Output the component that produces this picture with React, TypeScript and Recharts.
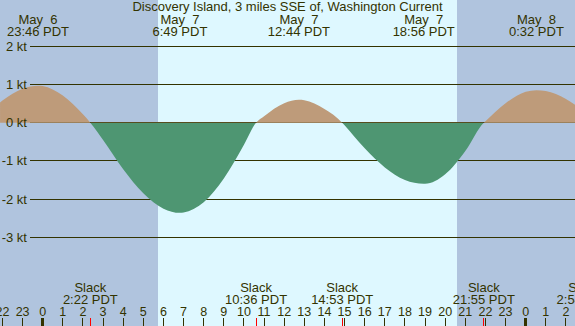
import React from 'react';
import { ComposedChart, Area, XAxis, YAxis, CartesianGrid } from 'recharts';

const W = 575;
const H = 326;
const FONT = '"Liberation Sans", Arial, sans-serif';
const INK = '#333300';
const NIGHT = '#b0c4de';
const DAY = '#def8ff';
const FLOOD = '#be9b7a';
const EBB = '#4e9672';

// current speed (hours from May 7 00:00 PDT, knots)
const hours = [-2.12, -2, -1, -0.233, 0, 1, 2, 2.367, 3, 4, 5, 6, 6.817, 7, 8, 9, 10, 10.6, 11, 12, 12.733, 13, 14, 14.883, 15, 16, 17, 18, 18.933, 19, 20, 21, 21.917, 22, 23, 24, 24.533, 25, 26, 26.45];
const knots = [0.53, 0.58, 0.89, 0.97, 0.96, 0.71, 0.22, 0, -0.45, -1.22, -1.85, -2.25, -2.36, -2.35, -2.08, -1.46, -0.58, 0, 0.17, 0.51, 0.6, 0.59, 0.36, 0, -0.07, -0.67, -1.17, -1.5, -1.6, -1.6, -1.35, -0.74, 0, 0.04, 0.51, 0.81, 0.85, 0.83, 0.62, 0.47];

// axis extents
const xDomain = [-2.122, 26.45];
const yDomain = [-5.322, 3.212];

// sunrise / sunset
const sunrise = 5.714;
const sunset = 20.59;

// max current labels (top)
const peakHours = [-0.233, 6.817, 12.733, 18.933, 24.533];
const peakDates = ['May  6', 'May  7', 'May  7', 'May  7', 'May  8'];
const peakTimes = ['23:46 PDT', '6:49 PDT', '12:44 PDT', '18:56 PDT', '0:32 PDT'];

// slack labels (bottom)
const slackHours = [2.367, 10.6, 14.883, 21.917, 26.9];
const slackTimes = ['2:22 PDT', '10:36 PDT', '14:53 PDT', '21:55 PDT', '2:54 PDT'];

// hour ticks
const hourTicks = [-2, -1, 0, 1, 2, 3, 4, 5, 6, 7, 8, 9, 10, 11, 12, 13, 14, 15, 16, 17, 18, 19, 20, 21, 22, 23, 24, 25, 26];
const hourLabels = ['22', '23', '0', '1', '2', '3', '4', '5', '6', '7', '8', '9', '10', '11', '12', '13', '14', '15', '16', '17', '18', '19', '20', '21', '22', '23', '0', '1', '2'];

// y ticks
const kTicks = [2, 1, 0, -1, -2, -3];
const kLabels = ['2 kt', '1 kt', '0 kt', '-1 kt', '-2 kt', '-3 kt'];

const data = hours.map((h, i) => ({ h, v: knots[i] }));
// fraction of the plot height above the zero line
const zeroFrac = yDomain[1] / (yDomain[1] - yDomain[0]);

const FS = 13;
const txt = { fontFamily: FONT, fontSize: FS, fill: INK } as const;

const HourTick = (p: any) => {
  const i = hourTicks.indexOf(p.payload.value);
  const lbl = hourLabels[i];
  return (
    <g>
      <text x={p.x} y={p.y - 10} textAnchor="middle" {...txt} fontSize={12.5}>{lbl}</text>
      <line x1={p.x} x2={p.x} y1={p.y - 8} y2={p.y} stroke={INK} strokeWidth={lbl === '0' ? 3 : 1} shapeRendering="crispEdges" />
    </g>
  );
};

const SlackTick = (p: any) => {
  const i = slackHours.indexOf(p.payload.value);
  const y = p.y - 1;
  return (
    <g>
      <text x={p.x} y={y - 34} textAnchor="middle" {...txt}>Slack</text>
      <text x={p.x} y={y - 22.5} textAnchor="middle" {...txt}>{slackTimes[i]}</text>
      <line x1={p.x} x2={p.x} y1={y - 8} y2={y} stroke="#ff0000" strokeWidth={1} shapeRendering="crispEdges" />
    </g>
  );
};

const PeakTick = (p: any) => {
  const i = peakHours.indexOf(p.payload.value);
  return (
    <g>
      <text x={p.x} y={p.y + 23.5} textAnchor="middle" style={{ whiteSpace: 'pre' }} {...txt}>{peakDates[i]}</text>
      <text x={p.x} y={p.y + 36} textAnchor="middle" {...txt}>{peakTimes[i]}</text>
    </g>
  );
};

const KTick = (p: any) => {
  const i = kTicks.indexOf(p.payload.value);
  return (
    <text x={p.x + 27} y={p.y + 4.5} textAnchor="end" {...txt}>{kLabels[i]}</text>
  );
};

const GridLine = (p: any) => (
  <line key={p.key} x1={p.x1 + 30} y1={p.y1} x2={p.x2} y2={p.y2} stroke={INK} strokeWidth={1} shapeRendering="crispEdges" />
);
const NoLine = (p: any) => <g key={p.key} />;

export default function App() {
  return (
    <div style={{ position: 'absolute', left: 0, top: 0, width: W, height: H }}>
      <ComposedChart width={W} height={H} data={data} margin={{ top: -1, right: 0, bottom: -2, left: -1 }}>
        <defs>
          <linearGradient id="splitFill" gradientUnits="userSpaceOnUse" x1="0" y1="0" x2="0" y2={H}>
            <stop offset={zeroFrac} stopColor={FLOOD} />
            <stop offset={zeroFrac} stopColor={EBB} />
          </linearGradient>
        </defs>
        <CartesianGrid
          vertical={NoLine}
          verticalValues={[sunrise, sunset]}
          verticalFill={[NIGHT, DAY, NIGHT]}
          fillOpacity={1}
          horizontal={GridLine}
          horizontalValues={kTicks}
        />
        <XAxis dataKey="h" type="number" domain={xDomain} allowDataOverflow ticks={hourTicks} interval={0}
          height={1} tickSize={0} tickMargin={0} axisLine={false} tickLine={false} tick={HourTick} orientation="bottom" />
        <XAxis xAxisId="slack" dataKey="h" type="number" domain={xDomain} allowDataOverflow ticks={slackHours} interval={0}
          height={1} tickSize={0} tickMargin={0} axisLine={false} tickLine={false} tick={SlackTick} orientation="bottom" />
        <XAxis xAxisId="peak" dataKey="h" type="number" domain={xDomain} allowDataOverflow ticks={peakHours} interval={0}
          height={1} tickSize={0} tickMargin={0} axisLine={false} tickLine={false} tick={PeakTick} orientation="top" />
        <YAxis type="number" domain={yDomain} allowDataOverflow ticks={kTicks} interval={0} width={1}
          tickSize={0} tickMargin={0} axisLine={false} tickLine={false} tick={KTick} />
        <Area dataKey="v" type="monotone" baseValue={0} stroke="none" fill="url(#splitFill)" fillOpacity={1} isAnimationActive={false} dot={false} activeDot={false} />
      </ComposedChart>
      <div style={{ position: 'absolute', left: 0, top: 0, width: W, textAlign: 'center', fontFamily: FONT, fontSize: FS, color: INK, lineHeight: '14px' }}>
        Discovery Island, 3 miles SSE of, Washington Current
      </div>
    </div>
  );
}
